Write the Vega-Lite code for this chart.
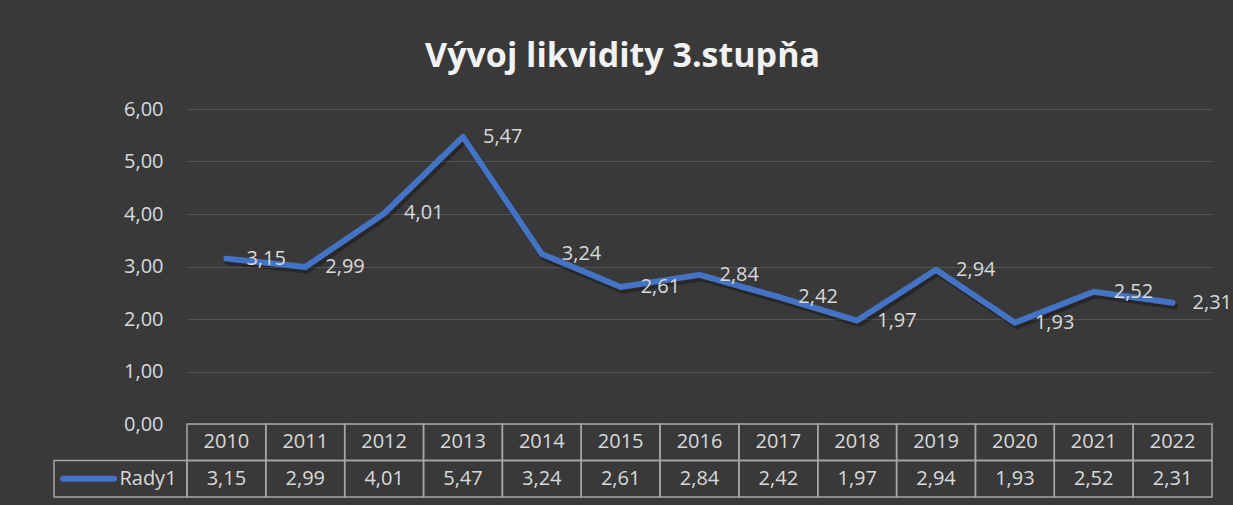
{
  "$schema": "https://vega.github.io/schema/vega-lite/v6.json",
  "background": "#393939",
  "padding": {"left": 51, "top": 40, "right": 0, "bottom": 7},
  "width": 1025,
  "height": 388,
  "config": {
    "locale": {"number": {"decimal": ",", "thousands": " ", "grouping": [3], "currency": ["", " €"]}},
    "font": "Open Sans",
    "view": {"stroke": null}
  },
  "title": {"text": "Vývoj likvidity 3.stupňa", "fontSize": 34, "fontWeight": "bold", "color": "#f2f2f2", "anchor": "middle", "frame": "bounds", "offset": 25, "dx": -19},
  "datasets": {
    "d": [
      {"year": "2010", "value": 3.15, "series": "Rady1"},
      {"year": "2011", "value": 2.99, "series": "Rady1"},
      {"year": "2012", "value": 4.01, "series": "Rady1"},
      {"year": "2013", "value": 5.47, "series": "Rady1"},
      {"year": "2014", "value": 3.24, "series": "Rady1"},
      {"year": "2015", "value": 2.61, "series": "Rady1"},
      {"year": "2016", "value": 2.84, "series": "Rady1"},
      {"year": "2017", "value": 2.42, "series": "Rady1"},
      {"year": "2018", "value": 1.97, "series": "Rady1"},
      {"year": "2019", "value": 2.94, "series": "Rady1"},
      {"year": "2020", "value": 1.93, "series": "Rady1"},
      {"year": "2021", "value": 2.52, "series": "Rady1"},
      {"year": "2022", "value": 2.31, "series": "Rady1"}
    ],
    "cell": [{"series": "Rady1"}]
  },
  "resolve": {"scale": {"x": "independent", "y": "independent"}, "axis": {"x": "independent", "y": "independent"}},
  "layer": [
    {
      "data": {"name": "d"},
      "encoding": {
        "x": {"field": "year", "type": "ordinal", "axis": null, "scale": {"type": "point", "padding": 0.5}},
        "y": {
          "field": "value", "type": "quantitative",
          "scale": {"domain": [0, 6], "range": [315, 0]},
          "axis": {
            "title": null, "values": [0, 1, 2, 3, 4, 5, 6], "format": ".2f",
            "labelFontSize": 20, "labelColor": "#d9d9d9", "labelPadding": 24,
            "domain": false, "ticks": false, "gridColor": "#555555", "gridWidth": 1
          }
        }
      },
      "layer": [
        {"mark": {"type": "line", "strokeWidth": 7, "color": "#000000", "opacity": 0.3, "xOffset": 2, "yOffset": 3, "strokeJoin": "round", "strokeCap": "round"}},
        {"mark": {"type": "line", "strokeWidth": 6, "color": "#4472C4", "strokeJoin": "round", "strokeCap": "round"}},
        {
          "mark": {"type": "text", "align": "left", "dx": 20, "fontSize": 20, "color": "#d9d9d9"},
          "encoding": {"text": {"field": "value", "type": "quantitative", "format": ".2f"}}
        }
      ]
    },
    {
      "data": {"name": "d"},
      "encoding": {
        "x": {"field": "year", "type": "ordinal", "axis": null, "scale": {"type": "band", "paddingInner": 0, "paddingOuter": 0}}
      },
      "layer": [
        {
          "mark": {"type": "rect", "fill": "transparent", "stroke": "#a6a6a6", "strokeWidth": 1.5},
          "encoding": {"y": {"datum": "h", "type": "nominal", "scale": {"type": "band", "domain": ["h", "v"], "range": [315, 388], "paddingInner": 0, "paddingOuter": 0}, "axis": null}}
        },
        {
          "mark": {"type": "rect", "fill": "transparent", "stroke": "#a6a6a6", "strokeWidth": 1.5},
          "encoding": {"y": {"datum": "v", "type": "nominal"}}
        },
        {
          "mark": {"type": "text", "fontSize": 20, "color": "#d9d9d9"},
          "encoding": {"y": {"datum": "h", "type": "nominal"}, "text": {"field": "year"}}
        },
        {
          "mark": {"type": "text", "fontSize": 20, "color": "#d9d9d9"},
          "encoding": {"y": {"datum": "v", "type": "nominal"}, "text": {"field": "value", "type": "quantitative", "format": ".2f"}}
        }
      ]
    },
    {
      "data": {"name": "cell"},
      "encoding": {
        "y": {"datum": "v", "type": "nominal", "scale": {"type": "band", "domain": ["h", "v"], "range": [315, 388], "paddingInner": 0, "paddingOuter": 0}, "axis": null}
      },
      "resolve": {"scale": {"x": "independent"}, "axis": {"x": "independent"}},
      "layer": [
        {
          "mark": {"type": "rect", "fill": "transparent", "stroke": "#a6a6a6", "strokeWidth": 1.5},
          "encoding": {"x": {"datum": "cell", "type": "nominal", "scale": {"type": "band", "domain": ["cell"], "range": [-133, 0], "paddingInner": 0, "paddingOuter": 0}, "axis": null}}
        },
        {
          "layer": [
            {
              "mark": {"type": "point", "shape": "stroke", "size": 2601, "strokeWidth": 6, "color": "#4472C4", "filled": false, "opacity": 1, "strokeCap": "round"},
              "encoding": {"x": {"datum": "s", "type": "nominal", "scale": {"type": "point", "domain": ["s", "l"], "range": [-98.5, -39], "padding": 0}, "axis": null}}
            },
            {
              "mark": {"type": "text", "fontSize": 20, "color": "#d9d9d9"},
              "encoding": {"x": {"datum": "l", "type": "nominal"}, "text": {"field": "series"}}
            }
          ]
        }
      ]
    }
  ]
}
